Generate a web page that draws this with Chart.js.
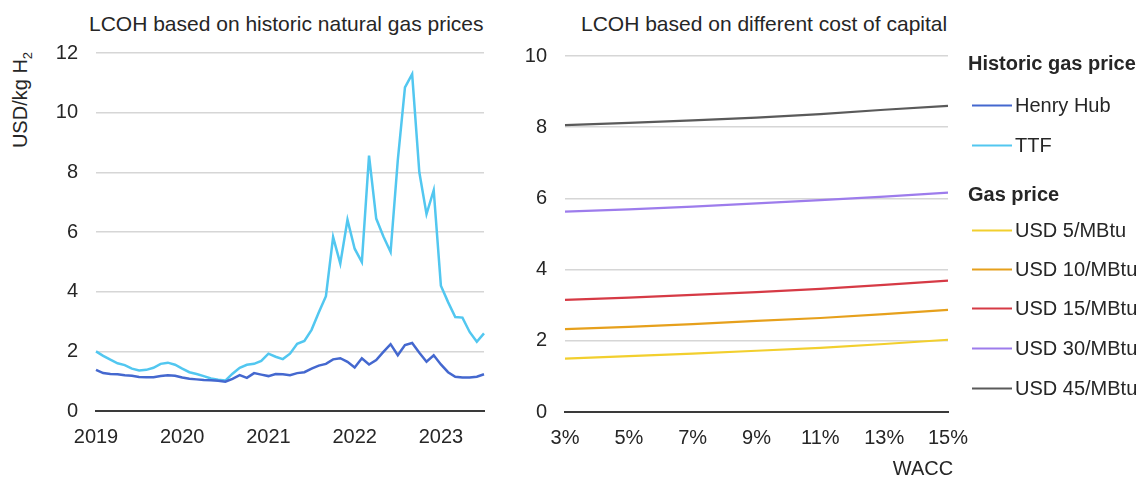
<!DOCTYPE html>
<html>
<head>
<meta charset="utf-8">
<script src="https://cdn.jsdelivr.net/npm/chart.js@4"></script>
<style>
  body { margin: 0; background: #fff; font-family: "Liberation Sans", Arial, sans-serif; color: #262626; }
  #wrap { position: relative; width: 1145px; height: 481px; overflow: hidden; }
  .box { position: absolute; top: 0; height: 481px; }
  .title { position: absolute; top: 12px; font-size: 21px; white-space: nowrap; }
  #ytitle { position: absolute; left: 22px; top: 100px; font-size: 20px; white-space: nowrap;
            transform: translate(-50%, -50%) rotate(-90deg); }
  #ytitle sub { font-size: 13px; }
  #wacc { position: absolute; left: 923px; top: 468px; font-size: 20px; transform: translate(-50%, -50%); }
  .lg { position: absolute; left: 968px; font-size: 20px; white-space: nowrap; transform: translateY(-50%); }
  .lg.head { font-weight: bold; }
  .lg.item { left: 972px; display: flex; align-items: center; }
  .lg.item i { display: inline-block; width: 40px; height: 2px; margin-right: 3px; }
</style>
</head>
<body>
<div id="wrap">
  <div class="title" style="left:89px">LCOH based on historic natural gas prices</div>
  <div class="title" style="left:581px">LCOH based on different cost of capital</div>
  <div id="ytitle">USD/kg H<sub>2</sub></div>
  <div class="box" style="left:0;width:500px"><canvas id="gas-chart"></canvas></div>
  <div class="box" style="left:500px;width:472px"><canvas id="wacc-chart"></canvas></div>
  <div id="wacc">WACC</div>
  <div id="legend"></div>
</div>
<script>
// monthly LCOH, Jan 2019 - Jul 2023
const henryHub = [1.38,1.27,1.24,1.23,1.2,1.18,1.14,1.13,1.13,1.17,
  1.2,1.18,1.12,1.08,1.06,1.04,1.03,1.01,0.98,1.08,
  1.2,1.11,1.27,1.22,1.17,1.24,1.23,1.2,1.27,1.3,
  1.42,1.52,1.58,1.73,1.77,1.65,1.46,1.77,1.56,1.71,
  1.98,2.24,1.87,2.21,2.28,1.95,1.65,1.87,1.56,1.3,
  1.15,1.12,1.12,1.15,1.23];
const ttf = [2.0,1.85,1.72,1.6,1.54,1.42,1.36,1.38,1.45,1.58,
  1.62,1.55,1.42,1.3,1.24,1.17,1.09,1.05,1.02,1.25,
  1.45,1.55,1.58,1.68,1.92,1.82,1.74,1.92,2.25,2.35,
  2.72,3.3,3.85,5.83,4.94,6.41,5.44,4.99,8.56,6.45,
  5.85,5.33,8.4,10.85,11.29,8.0,6.6,7.4,4.2,3.65,
  3.15,3.13,2.65,2.32,2.6];

// LCOH by WACC for fixed gas prices
const waccLabels = ['3%','5%','7%','9%','11%','13%','15%'];
const usd5 = [1.5,1.57,1.64,1.72,1.8,1.91,2.03];
const usd10 = [2.33,2.39,2.47,2.56,2.64,2.75,2.87];
const usd15 = [3.15,3.21,3.29,3.37,3.46,3.57,3.69];
const usd30 = [5.63,5.69,5.77,5.86,5.95,6.05,6.16];
const usd45 = [8.06,8.12,8.19,8.27,8.37,8.49,8.6];

const monthLabels = [];
for (let i = 0; i < henryHub.length; i++) {
  const y = 2019 + Math.floor(i / 12), m = i % 12 + 1;
  monthLabels.push(y + '-' + String(m).padStart(2, '0'));
}

const colors = {
  henryHub: '#4468cf', ttf: '#52c7f0',
  usd5: '#f2cf2e', usd10: '#e6a01c', usd15: '#d63a45', usd30: '#9d7cec', usd45: '#5a5a5a'
};

const tickFont = { family: '"Liberation Sans", Arial, sans-serif', size: 20 };
const tickColor = '#262626';

function axes(yMax, yWidth, xHeight, xLabels, xCallback) {
  return {
    x: {
      grid: { display: false, drawTicks: false },
      border: { display: true, color: '#3a3a3a', width: 2 },
      ticks: {
        font: tickFont, color: tickColor, padding: 14, autoSkip: false, maxRotation: 0,
        callback: xCallback || ((v, i) => xLabels[i])
      },
      // labels may overhang the plot edges; keep the plot width fixed
      afterFit: s => { s.height = xHeight; s.paddingLeft = 0; s.paddingRight = 0; }
    },
    y: {
      min: 0, max: yMax,
      grid: { color: '#d6d6d6', lineWidth: 1.5, drawTicks: false },
      border: { display: false },
      ticks: { font: tickFont, color: tickColor, padding: 18, stepSize: 2 },
      afterFit: s => { s.width = yWidth; }
    }
  };
}

function line(label, data, color, width) {
  return { label, data, borderColor: color, backgroundColor: color, borderWidth: width, pointRadius: 0, tension: 0 };
}

new Chart(document.getElementById('gas-chart'), {
  type: 'line',
  data: {
    labels: monthLabels,
    datasets: [
      line('Henry Hub', henryHub, colors.henryHub, 2.5),
      line('TTF', ttf, colors.ttf, 2.5)
    ]
  },
  options: {
    responsive: true, maintainAspectRatio: false, animation: false,
    layout: { padding: { top: 53, right: 16, left: 0, bottom: 0 } },
    plugins: { legend: { display: false }, tooltip: { enabled: false } },
    scales: axes(12, 96, 70, monthLabels, function (v, i) {
      const l = monthLabels[i];
      return l.endsWith('-01') ? l.slice(0, 4) : '';
    })
  }
});

new Chart(document.getElementById('wacc-chart'), {
  type: 'line',
  data: {
    labels: waccLabels,
    datasets: [
      line('USD 5/MBtu', usd5, colors.usd5, 2.2),
      line('USD 10/MBtu', usd10, colors.usd10, 2.2),
      line('USD 15/MBtu', usd15, colors.usd15, 2.2),
      line('USD 30/MBtu', usd30, colors.usd30, 2.2),
      line('USD 45/MBtu', usd45, colors.usd45, 2.2)
    ]
  },
  options: {
    responsive: true, maintainAspectRatio: false, animation: false,
    layout: { padding: { top: 56, right: 24, left: 0, bottom: 0 } },
    plugins: { legend: { display: false }, tooltip: { enabled: false } },
    scales: axes(10, 65, 69, waccLabels)
  }
});

// shared legend for both panels
const legendRows = [
  { head: 'Historic gas price', y: 63 },
  { text: 'Henry Hub', color: colors.henryHub, y: 105 },
  { text: 'TTF', color: colors.ttf, y: 145 },
  { head: 'Gas price', y: 194 },
  { text: 'USD 5/MBtu', color: colors.usd5, y: 230 },
  { text: 'USD 10/MBtu', color: colors.usd10, y: 269 },
  { text: 'USD 15/MBtu', color: colors.usd15, y: 308 },
  { text: 'USD 30/MBtu', color: colors.usd30, y: 348 },
  { text: 'USD 45/MBtu', color: colors.usd45, y: 388 }
];
const legend = document.getElementById('legend');
legendRows.forEach(r => {
  const d = document.createElement('div');
  d.style.top = r.y + 'px';
  if (r.head) {
    d.className = 'lg head';
    d.textContent = r.head;
  } else {
    d.className = 'lg item';
    d.innerHTML = `<i style="background:${r.color}"></i><span>${r.text}</span>`;
  }
  legend.appendChild(d);
});
</script>
</body>
</html>
